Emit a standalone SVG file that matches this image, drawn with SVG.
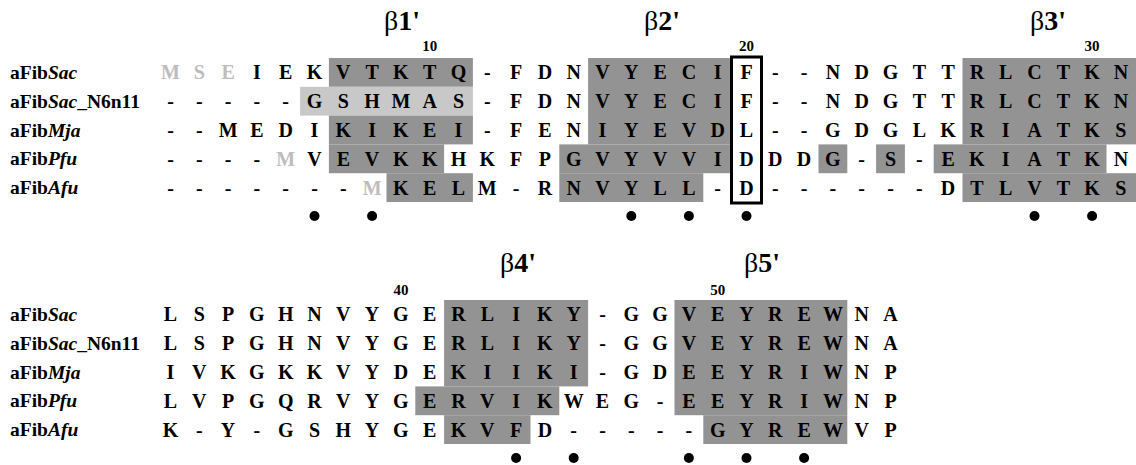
<svg xmlns="http://www.w3.org/2000/svg" width="1136" height="465" viewBox="0 0 1136 465">
<style>
.bg{fill:#ffffff}
.sh{fill:#939393}
.lt{fill:#c8c8c8}
.res{font-family:"Liberation Serif","Times New Roman",serif;font-weight:bold;font-size:20px;fill:#000;text-anchor:middle}
.g{fill:#bdbdbd}
.lab{font-family:"Liberation Serif","Times New Roman",serif;font-weight:bold;font-size:19.5px;fill:#000}
.it{font-style:italic}
.num{font-family:"Liberation Serif","Times New Roman",serif;font-weight:bold;font-size:15px;fill:#000;text-anchor:middle}
.beta{font-family:"Liberation Serif","Times New Roman",serif;font-size:28px;fill:#000;text-anchor:middle}
.b{font-weight:bold}
.dot{fill:#000}
.box{fill:none;stroke:#000;stroke-width:3}
</style>
<rect class="bg" x="0" y="0" width="1136" height="465"/>

<g id="shading-top">
<rect class="sh" x="328.9" y="58" width="144" height="28.8"/>
<rect class="lt" x="300.1" y="86.8" width="172.8" height="28.8"/>
<rect class="sh" x="328.9" y="115.6" width="144" height="28.8"/>
<rect class="sh" x="328.9" y="144.4" width="115.2" height="28.8"/>
<rect class="sh" x="386.5" y="173.2" width="86.4" height="28.8"/>
<rect class="sh" x="588.1" y="58" width="144" height="86.4"/>
<rect class="sh" x="559.3" y="144.4" width="172.8" height="28.8"/>
<rect class="sh" x="559.3" y="173.2" width="144" height="28.8"/>
<rect class="sh" x="962.5" y="58" width="173.5" height="86.4"/>
<rect class="sh" x="818.5" y="144.4" width="28.8" height="28.8"/>
<rect class="sh" x="876.1" y="144.4" width="28.8" height="28.8"/>
<rect class="sh" x="933.7" y="144.4" width="172.8" height="28.8"/>
<rect class="sh" x="962.5" y="173.2" width="173.5" height="28.8"/>
</g>

<g id="shading-bottom">
<rect class="sh" x="444.1" y="300" width="144" height="86.4"/>
<rect class="sh" x="415.3" y="386.4" width="144" height="28.8"/>
<rect class="sh" x="444.1" y="415.2" width="86.4" height="28.8"/>
<rect class="sh" x="674.5" y="300" width="172.8" height="115.2"/>
<rect class="sh" x="703.3" y="415.2" width="144" height="28.8"/>
</g>

<g id="structure-labels">
<text class="beta" x="402" y="30">β<tspan class="b">1'</tspan></text>
<text class="beta" x="662" y="30">β<tspan class="b">2'</tspan></text>
<text class="beta" x="1048" y="30">β<tspan class="b">3'</tspan></text>
<text class="beta" x="518" y="272">β<tspan class="b">4'</tspan></text>
<text class="beta" x="762" y="272">β<tspan class="b">5'</tspan></text>
<text class="num" x="429.7" y="51">10</text>
<text class="num" x="746.5" y="51">20</text>
<text class="num" x="1092.1" y="51">30</text>
<text class="num" x="400.9" y="295">40</text>
<text class="num" x="717.7" y="295">50</text>
</g>

<g id="row-top-Sac">
<text class="lab" x="10" y="79">aFib<tspan class="it">Sac</tspan></text>
<text class="res" y="79.3"><tspan class="g" x="170.5 199.3 228.1">MSE</tspan><tspan x="256.9 285.7 314.5 343.3 372.1 400.9 429.7 458.5 487.3 516.1 544.9 573.7 602.5 631.3 660.1 688.9 717.7 746.5 775.3 804.1 832.9 861.7 890.5 919.3 948.1 976.9 1005.7 1034.5 1063.3 1092.1 1120.9">IEKVTKTQ-FDNVYECIF--NDGTTRLCTKN</tspan></text>
</g>
<g id="row-top-SacN6n11">
<text class="lab" x="10" y="107.8">aFib<tspan class="it">Sac</tspan>_N6n11</text>
<text class="res" y="108.1" x="170.5 199.3 228.1 256.9 285.7 314.5 343.3 372.1 400.9 429.7 458.5 487.3 516.1 544.9 573.7 602.5 631.3 660.1 688.9 717.7 746.5 775.3 804.1 832.9 861.7 890.5 919.3 948.1 976.9 1005.7 1034.5 1063.3 1092.1 1120.9">-----GSHMAS-FDNVYECIF--NDGTTRLCTKN</text>
</g>
<g id="row-top-Mja">
<text class="lab" x="10" y="136.6">aFib<tspan class="it">Mja</tspan></text>
<text class="res" y="136.9" x="170.5 199.3 228.1 256.9 285.7 314.5 343.3 372.1 400.9 429.7 458.5 487.3 516.1 544.9 573.7 602.5 631.3 660.1 688.9 717.7 746.5 775.3 804.1 832.9 861.7 890.5 919.3 948.1 976.9 1005.7 1034.5 1063.3 1092.1 1120.9">--MEDIKIKEI-FENIYEVDL--GDGLKRIATKS</text>
</g>
<g id="row-top-Pfu">
<text class="lab" x="10" y="165.4">aFib<tspan class="it">Pfu</tspan></text>
<text class="res" y="165.7"><tspan x="170.5 199.3 228.1 256.9">----</tspan><tspan class="g" x="285.7">M</tspan><tspan x="314.5 343.3 372.1 400.9 429.7 458.5 487.3 516.1 544.9 573.7 602.5 631.3 660.1 688.9 717.7 746.5 775.3 804.1 832.9 861.7 890.5 919.3 948.1 976.9 1005.7 1034.5 1063.3 1092.1 1120.9">VEVKKHKFPGVYVVIDDDG-S-EKIATKN</tspan></text>
</g>
<g id="row-top-Afu">
<text class="lab" x="10" y="194.2">aFib<tspan class="it">Afu</tspan></text>
<text class="res" y="194.5"><tspan x="170.5 199.3 228.1 256.9 285.7 314.5 343.3">-------</tspan><tspan class="g" x="372.1">M</tspan><tspan x="400.9 429.7 458.5 487.3 516.1 544.9 573.7 602.5 631.3 660.1 688.9 717.7 746.5 775.3 804.1 832.9 861.7 890.5 919.3 948.1 976.9 1005.7 1034.5 1063.3 1092.1 1120.9">KELM-RNVYLL-D------DTLVTKS</tspan></text>
</g>

<g id="box-col20">
<rect class="box" x="731.5" y="57" width="30" height="146"/>
</g>

<g id="dots-top">
<circle class="dot" cx="314.5" cy="216" r="5"/>
<circle class="dot" cx="372.1" cy="216" r="5"/>
<circle class="dot" cx="631.3" cy="216" r="5"/>
<circle class="dot" cx="688.9" cy="216" r="5"/>
<circle class="dot" cx="746.5" cy="216" r="5"/>
<circle class="dot" cx="1034.5" cy="216" r="5"/>
<circle class="dot" cx="1092.1" cy="216" r="5"/>
</g>

<g id="row-bot-Sac">
<text class="lab" x="10" y="321">aFib<tspan class="it">Sac</tspan></text>
<text class="res" y="321.3" x="170.5 199.3 228.1 256.9 285.7 314.5 343.3 372.1 400.9 429.7 458.5 487.3 516.1 544.9 573.7 602.5 631.3 660.1 688.9 717.7 746.5 775.3 804.1 832.9 861.7 890.5">LSPGHNVYGERLIKY-GGVEYREWNA</text>
</g>
<g id="row-bot-SacN6n11">
<text class="lab" x="10" y="349.8">aFib<tspan class="it">Sac</tspan>_N6n11</text>
<text class="res" y="350.1" x="170.5 199.3 228.1 256.9 285.7 314.5 343.3 372.1 400.9 429.7 458.5 487.3 516.1 544.9 573.7 602.5 631.3 660.1 688.9 717.7 746.5 775.3 804.1 832.9 861.7 890.5">LSPGHNVYGERLIKY-GGVEYREWNA</text>
</g>
<g id="row-bot-Mja">
<text class="lab" x="10" y="378.6">aFib<tspan class="it">Mja</tspan></text>
<text class="res" y="378.9" x="170.5 199.3 228.1 256.9 285.7 314.5 343.3 372.1 400.9 429.7 458.5 487.3 516.1 544.9 573.7 602.5 631.3 660.1 688.9 717.7 746.5 775.3 804.1 832.9 861.7 890.5">IVKGKKVYDEKIIKI-GDEEYRIWNP</text>
</g>
<g id="row-bot-Pfu">
<text class="lab" x="10" y="407.4">aFib<tspan class="it">Pfu</tspan></text>
<text class="res" y="407.7" x="170.5 199.3 228.1 256.9 285.7 314.5 343.3 372.1 400.9 429.7 458.5 487.3 516.1 544.9 573.7 602.5 631.3 660.1 688.9 717.7 746.5 775.3 804.1 832.9 861.7 890.5">LVPGQRVYGERVIKWEG-EEYRIWNP</text>
</g>
<g id="row-bot-Afu">
<text class="lab" x="10" y="436.2">aFib<tspan class="it">Afu</tspan></text>
<text class="res" y="436.5" x="170.5 199.3 228.1 256.9 285.7 314.5 343.3 372.1 400.9 429.7 458.5 487.3 516.1 544.9 573.7 602.5 631.3 660.1 688.9 717.7 746.5 775.3 804.1 832.9 861.7 890.5">K-Y-GSHYGEKVFD-----GYREWVP</text>
</g>

<g id="dots-bottom">
<circle class="dot" cx="516.1" cy="458" r="5"/>
<circle class="dot" cx="573.7" cy="458" r="5"/>
<circle class="dot" cx="688.9" cy="458" r="5"/>
<circle class="dot" cx="746.5" cy="458" r="5"/>
<circle class="dot" cx="804.1" cy="458" r="5"/>
</g>

<g id="connectors"></g>
</svg>
